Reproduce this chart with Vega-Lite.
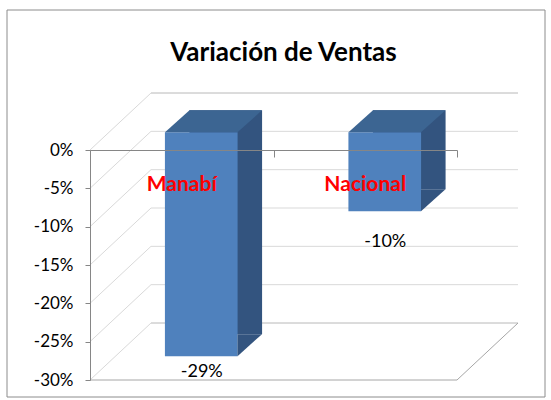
{
  "$schema": "https://vega.github.io/schema/vega-lite/v6.json",
  "width": 367,
  "height": 230,
  "autosize": {"type": "none"},
  "padding": {"left": 90, "top": 150, "right": 94, "bottom": 20},
  "background": "white",
  "title": {
    "text": "Variación de Ventas",
    "font": "Lato",
    "fontSize": 26,
    "fontWeight": "bold",
    "color": "#000000",
    "anchor": "middle",
    "baseline": "alphabetic",
    "offset": -77,
    "dx": 10
  },
  "datasets": {
    "ticks": [{"t": 0}, {"t": -0.05}, {"t": -0.1}, {"t": -0.15}, {"t": -0.2}, {"t": -0.25}, {"t": -0.3}],
    "sales": [{"cat": "Manabí", "v": -0.292}, {"cat": "Nacional", "v": -0.103}]
  },
  "layer": [
    {
      "layer": [
        {
          "data": {"values": [{}]},
          "mark": {"type": "rect", "fill": "white", "fillOpacity": 0, "stroke": "#8c8c8c", "strokeWidth": 1, "xOffset": -83, "x2Offset": 88, "yOffset": -140, "y2Offset": 17},
          "encoding": {
            "x": {"datum": 0, "type": "quantitative", "scale": {"domain": [0, 1]}, "axis": null},
            "x2": {"datum": 1},
            "y": {"datum": 0, "type": "quantitative", "scale": {"domain": [-0.3, 0], "nice": false}, "axis": null},
            "y2": {"datum": -0.3}
          }
        },
        {
          "data": {"name": "ticks"},
          "mark": {"type": "rule", "strokeWidth": 1, "xOffset": 61, "x2Offset": 61, "yOffset": -57},
          "encoding": {
            "x": {"datum": 0, "type": "quantitative", "axis": null},
            "x2": {"datum": 1},
            "y": {"field": "t", "type": "quantitative", "axis": null},
            "color": {"condition": {"test": "datum.t === 0 || datum.t === -0.3", "value": "#b8b8b8"}, "value": "#d9d9d9"}
          }
        },
        {
          "data": {"name": "ticks"},
          "mark": {"type": "rule", "strokeWidth": 1, "color": "#d9d9d9", "x2Offset": 61, "y2Offset": -57},
          "encoding": {
            "x": {"datum": 0, "type": "quantitative", "axis": null},
            "x2": {"datum": 0},
            "y": {"field": "t", "type": "quantitative", "axis": null},
            "y2": {"field": "t"}
          }
        },
        {
          "data": {"values": [{}]},
          "mark": {"type": "rule", "strokeWidth": 1, "color": "#a6a6a6", "x2Offset": 61, "y2Offset": -57},
          "encoding": {
            "x": {"datum": 1, "type": "quantitative", "axis": null},
            "x2": {"datum": 1},
            "y": {"datum": -0.3, "type": "quantitative", "axis": null},
            "y2": {"datum": -0.3}
          }
        },
        {
          "data": {"values": [{}]},
          "mark": {"type": "rule", "strokeWidth": 1, "color": "#a6a6a6"},
          "encoding": {
            "x": {"datum": 0, "type": "quantitative", "axis": null},
            "x2": {"datum": 1},
            "y": {"datum": -0.3, "type": "quantitative", "axis": null}
          }
        }
      ],
      "resolve": {"axis": {"y": "independent"}}
    },
    {
      "data": {"name": "sales"},
      "encoding": {
        "x": {
          "field": "cat",
          "type": "nominal",
          "sort": null,
          "scale": {"paddingInner": 0, "paddingOuter": 0},
          "axis": {
            "orient": "top",
            "labels": false,
            "title": null,
            "domainColor": "#868686",
            "tickColor": "#868686",
            "tickSize": -7,
            "tickBand": "extent",
            "grid": false,
            "zindex": 1
          }
        }
      },
      "layer": [
        {
          "mark": {"type": "bar", "color": "#33547f", "xOffset": 44, "yOffset": -39.7, "y2Offset": -39.7, "width": {"band": 0.396}},
          "encoding": {
            "y": {
              "field": "v",
              "type": "quantitative",
              "scale": {"domain": [-0.3, 0], "nice": false},
              "axis": {
                "values": [0, -0.05, -0.1, -0.15, -0.2, -0.25, -0.3],
                "format": ".0%",
                "title": null,
                "grid": false,
                "domainColor": "#868686",
                "tickColor": "#868686",
                "tickSize": 5,
                "labelPadding": 12,
                "labelFont": "Lato",
                "labelFontSize": 17,
                "labelColor": "#000000",
                "labelOverlap": false,
                "labelFlush": false,
                "zindex": 1
              }
            },
            "y2": {"datum": 0}
          }
        },
        {
          "mark": {"type": "bar", "color": "#4f81bd", "xOffset": 19.5, "yOffset": -17.7, "y2Offset": -17.7, "width": {"band": 0.396}},
          "encoding": {
            "y": {"field": "v", "type": "quantitative", "axis": null},
            "y2": {"datum": 0}
          }
        },
        {
          "mark": {"type": "point", "shape": "M36.25,0L60.75,-22L36.25,-22Z", "size": 4, "filled": true, "opacity": 1, "strokeWidth": 0, "color": "#33547f", "xOffset": 19.5, "yOffset": -17.7},
          "encoding": {
            "y": {"field": "v", "type": "quantitative", "axis": null}
          }
        },
        {
          "mark": {"type": "point", "shape": "M-36.25,0L36.25,0L60.75,-22L-11.75,-22Z", "size": 4, "filled": true, "opacity": 1, "strokeWidth": 0, "color": "#3c6592", "xOffset": 19.5, "yOffset": -17.7},
          "encoding": {
            "y": {"datum": 0, "type": "quantitative", "axis": null}
          }
        },
        {
          "mark": {"type": "text", "font": "Lato", "fontSize": 21, "fontWeight": "bold", "color": "#ff0000", "baseline": "middle", "align": "center", "yOffset": 35},
          "encoding": {
            "y": {"datum": 0, "type": "quantitative", "axis": null},
            "text": {"field": "cat"}
          }
        },
        {
          "mark": {"type": "text", "font": "Lato", "fontSize": 18, "color": "#000000", "baseline": "alphabetic", "align": "center", "xOffset": 20, "yOffset": {"expr": "datum.v < -0.2 ? 3 : 18"}},
          "encoding": {
            "y": {"field": "v", "type": "quantitative", "axis": null},
            "text": {"field": "v", "format": ".0%"}
          }
        }
      ],
      "resolve": {"axis": {"y": "independent"}}
    }
  ],
  "resolve": {"scale": {"x": "independent"}, "axis": {"y": "independent"}},
  "config": {
    "view": {"stroke": null},
    "locale": {
      "number": {"decimal": ".", "thousands": ",", "grouping": [3], "currency": ["$", ""], "minus": "-"}
    }
  }
}
